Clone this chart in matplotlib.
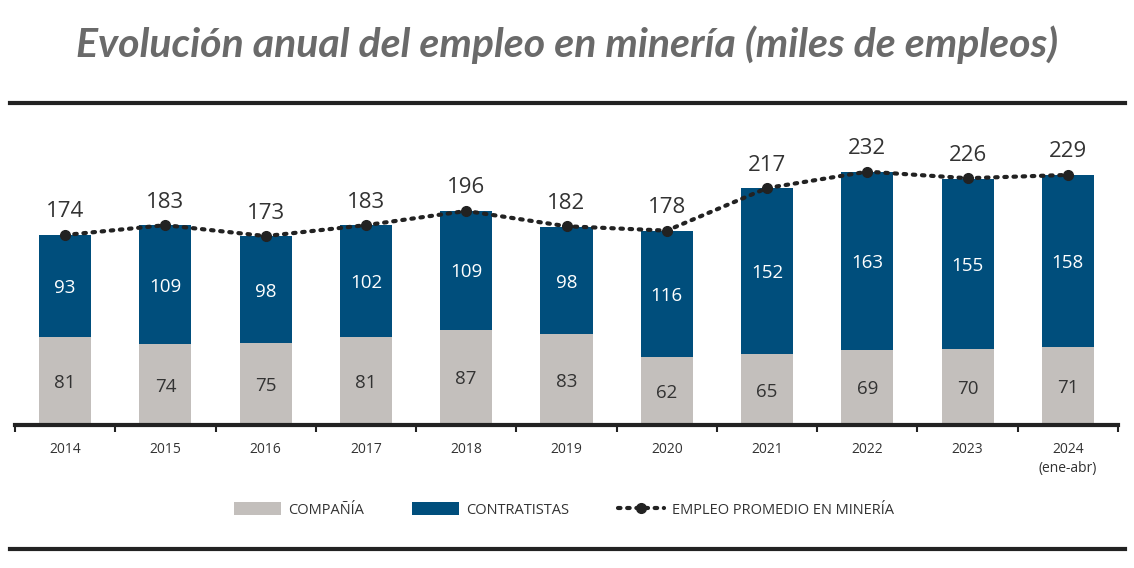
import matplotlib
matplotlib.use("Agg")
import matplotlib.pyplot as plt
from matplotlib.lines import Line2D
from matplotlib.patches import Patch

years = ["2014", "2015", "2016", "2017", "2018", "2019", "2020", "2021", "2022", "2023", "2024\n(ene-abr)"]
compania = [81, 74, 75, 81, 87, 83, 62, 65, 69, 70, 71]
contratistas = [93, 109, 98, 102, 109, 98, 116, 152, 163, 155, 158]
promedio = [174, 183, 173, 183, 196, 182, 178, 217, 232, 226, 229]

GRAY = "#C3BFBC"
BLUE = "#004E7C"
DARK = "#222222"

plt.rcParams['font.family'] = ['Open Sans', 'DejaVu Sans']

fig = plt.figure(figsize=(11.34, 5.68), dpi=100)
ax = fig.add_axes([15/1134, (568-425)/568, 1103/1134, (425-120)/568])

x = list(range(len(years)))
ax.bar(x, compania, width=0.52, color=GRAY, zorder=2)
ax.bar(x, contratistas, width=0.52, bottom=compania, color=BLUE, zorder=2)
ax.plot(x, promedio, linestyle=(0, (0.6, 1.6)), dash_capstyle='round', linewidth=3,
        color=DARK, marker='o', markersize=7, zorder=3)

for i in x:
    ax.text(i, compania[i] / 2, str(compania[i]), ha='center', va='center_baseline',
            fontsize=13.5, color='#333333', zorder=4)
    ax.text(i, compania[i] + contratistas[i] / 2, str(contratistas[i]), ha='center',
            va='center_baseline', fontsize=13.5, color='white', zorder=4)
    ax.annotate(str(promedio[i]), (i, promedio[i]), xytext=(0, 9), textcoords='offset points',
                ha='center', va='bottom', fontsize=16, color='#333333')

ax.set_xlim(-0.5, len(years) - 0.5)
ax.set_ylim(0, 279.3)
ax.set_yticks([])
for s in ['top', 'right', 'left']:
    ax.spines[s].set_visible(False)
ax.spines['bottom'].set_linewidth(3)
ax.spines['bottom'].set_color(DARK)
ax.set_xticks(x)
ax.set_xticklabels(years, fontsize=10, color='#333333', linespacing=1.4)
ax.tick_params(axis='x', which='major', length=0, pad=12)
ax.set_xticks([i - 0.5 for i in range(len(years) + 1)], minor=True)
ax.tick_params(axis='x', which='minor', length=5, width=1.5, color=DARK, direction='out')

fig.text(567/1134, 1 - 45/568, "Evolución anual del empleo en minería (miles de empleos)",
         ha='center', va='center', fontsize=29.5, fontweight='bold', fontstyle='italic',
         color='#6A6A6A', family=['Lato', 'DejaVu Sans'])

fig.add_artist(Line2D([10/1134, 1125/1134], [1 - 103/568] * 2, color=DARK, linewidth=3))
fig.add_artist(Line2D([10/1134, 1125/1134], [1 - 549/568] * 2, color=DARK, linewidth=3))

handles = [Patch(facecolor=GRAY, edgecolor='none'),
           Patch(facecolor=BLUE, edgecolor='none'),
           Line2D([0], [0], linestyle=(0, (0.6, 1.6)), dash_capstyle='round', linewidth=3,
                  color=DARK, marker='o', markersize=7)]
labels = ["COMPAÑÍA", "CONTRATISTAS", "EMPLEO PROMEDIO EN MINERÍA"]
fig.legend(handles, labels, loc='center', bbox_to_anchor=(564/1134, 1 - 510/568), ncol=3,
           frameon=False, fontsize=10.5, handlelength=3.2, handleheight=0.9,
           columnspacing=3.3, handletextpad=0.5, labelcolor='#333333')

fig.savefig("out.png", dpi=100)
